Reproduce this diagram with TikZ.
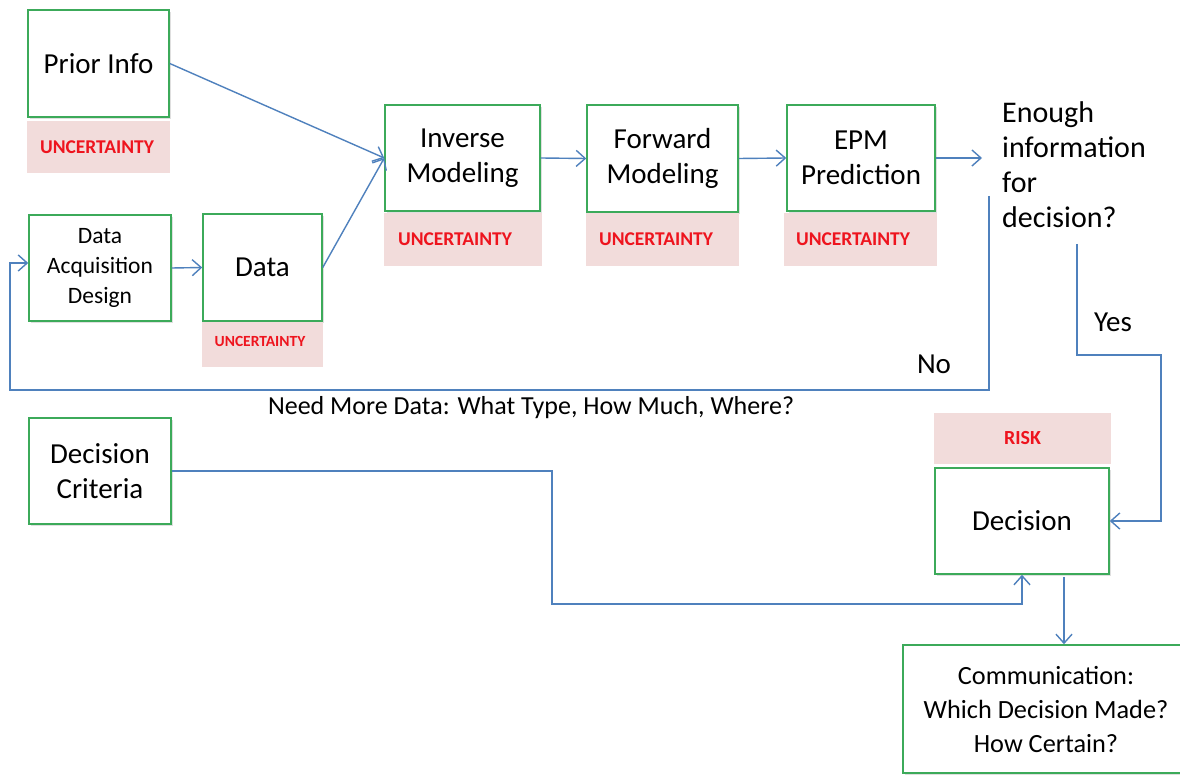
\documentclass[tikz,border=0pt]{standalone}
\usepackage{fontspec}
\setmainfont{Carlito}
\usetikzlibrary{arrows.meta,shadows}
\definecolor{boxgreen}{RGB}{60,170,90}
\definecolor{uncpink}{RGB}{242,220,219}
\definecolor{uncred}{RGB}{238,20,30}
\definecolor{lineblue}{RGB}{79,129,189}
\tikzset{
  box/.style={draw=boxgreen, line width=1.5pt, fill=white, align=center, inner sep=0pt,
    drop shadow={shadow xshift=1.5pt, shadow yshift=-2pt, opacity=0.25},
    font=\fontsize{29}{35}\selectfont},
  smallbox/.style={box, font=\fontsize{23.5}{30}\selectfont},
  pinkbox/.style={fill=uncpink, draw=none, inner sep=0pt},
  unctext/.style={text=uncred, font=\bfseries\fontsize{19.5}{22}\selectfont, inner sep=0pt},
  plain/.style={inner sep=0pt, align=left},
  arr/.style={draw=lineblue, line width=1.4pt, -{Straight Barb[length=9pt,width=16pt]}},
  ln/.style={draw=lineblue, line width=1.4pt}
}
\begin{document}
\begin{tikzpicture}[x=1pt,y=-1pt]
\useasboundingbox (0,0) rectangle (1180,775);
\clip (0,0) rectangle (1180,775);
\fill[white] (0,0) rectangle (1180,775);

% main boxes
\node[box, minimum width=141pt, minimum height=107pt] (prior) at (98.5,63.5) {Prior Info};
\node[pinkbox, minimum width=143pt, minimum height=52pt] (uprior) at (98.5,147) {};
\node[unctext] at (97,147) {UNCERTAINTY};

\node[smallbox, minimum width=142pt, minimum height=106pt] (dad) at (100,268) {Data\\Acquisition\\Design};

\node[box, minimum width=119pt, minimum height=107pt] (data) at (262.5,267.5) {Data};
\node[pinkbox, minimum width=121pt, minimum height=45pt] (udata) at (262.5,344.5) {};
\node[unctext, font=\bfseries\fontsize{15.5}{18}\selectfont] at (260,341) {UNCERTAINTY};

\node[box, minimum width=155pt, minimum height=106pt] (inverse) at (462.5,158) {Inverse\\Modeling};
\node[pinkbox, minimum width=158pt, minimum height=53pt] (uinv) at (463,239.5) {};
\node[unctext] at (455,239.5) {UNCERTAINTY};

\node[box, minimum width=151pt, minimum height=107pt] (forward) at (662.5,158.5) {Forward\\Modeling};
\node[pinkbox, minimum width=153pt, minimum height=53pt] (ufwd) at (662.5,239.5) {};
\node[unctext] at (656,239.5) {UNCERTAINTY};

\node[box, minimum width=148pt, minimum height=106pt] (epm) at (861,158) {EPM\\Prediction};
\node[pinkbox, minimum width=153pt, minimum height=53pt] (uepm) at (860.5,239.5) {};
\node[unctext] at (853,239.5) {UNCERTAINTY};

\node[plain, anchor=north west, font=\fontsize{30}{35.3}\selectfont] (enough) at (1002,101) {Enough\\information\\for\\decision?};

\node[box, minimum width=142pt, minimum height=106pt] (crit) at (100,471) {Decision\\Criteria};

\node[pinkbox, minimum width=177pt, minimum height=51pt] (risk) at (1022.5,438.5) {};
\node[unctext, font=\bfseries\fontsize{20}{22}\selectfont] at (1022.5,438.5) {RISK};
\node[box, minimum width=174pt, minimum height=106pt] (decision) at (1022,521) {Decision};

\node[box, minimum width=286pt, minimum height=128pt, font=\fontsize{26.3}{34}\selectfont] (comm) at (1046,709) {Communication:\\Which Decision Made?\\How Certain?};

% labels
\node[plain, font=\fontsize{29}{32}\selectfont] (yes) at (1113,322) {Yes};
\node[plain, font=\fontsize{29}{32}\selectfont] (no) at (934,364) {No};
\node[plain, font=\fontsize{26}{30}\selectfont] (need) at (531,408) {Need More Data: What Type, How Much, Where?};

% coordinates for free ends
\coordinate (epmend) at (982,158);
\coordinate (nostart) at (989,196);
\coordinate (yesstart) at (1077,244);

% connectors
\draw[arr] (prior.east) -- (inverse.west);
\draw[arr] (data.east) -- (inverse.west);
\draw[arr] (dad.east) -- (data.west);
\draw[arr] (inverse.east) -- (forward.west);
\draw[arr] (forward.east) -- (epm.west);
\draw[arr] (epm.east) -- (epmend);
\draw[arr] (nostart) -- (989,390) -- (10,390) |- ([yshift=5pt]dad.west);
\draw[arr] (yesstart) -- (1077,355) -- (1161,355) |- (decision.east);
\draw[arr] (crit.east) -| (552,604) -| (decision.south);
\draw[arr] ([xshift=42pt,yshift=-2pt]decision.south) -- ([xshift=42pt]decision.south |- comm.north);
\end{tikzpicture}
\end{document}
